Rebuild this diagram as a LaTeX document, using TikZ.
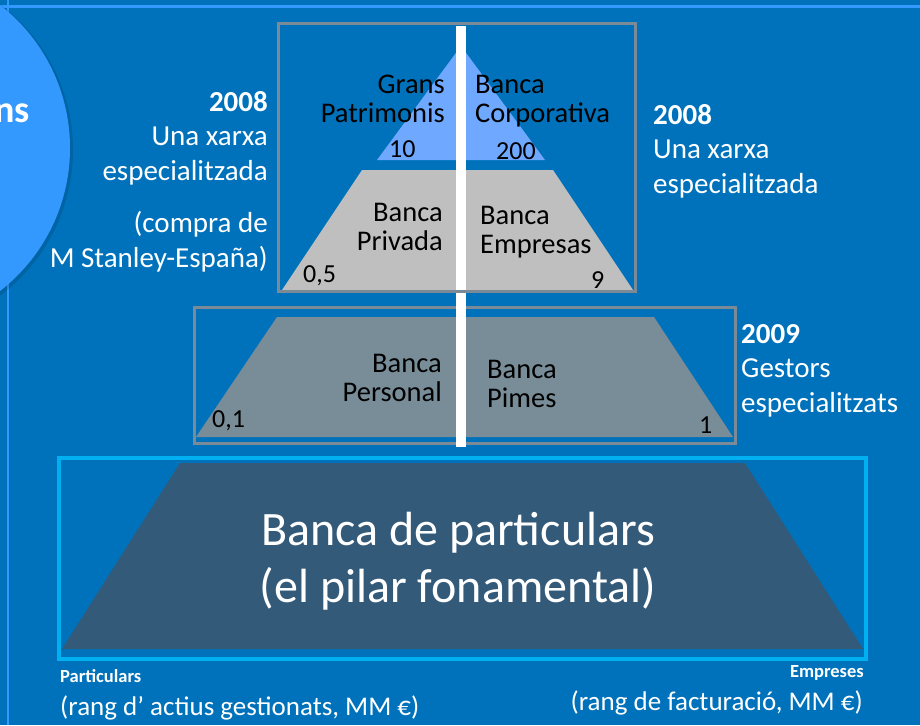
\documentclass[tikz,border=0pt]{standalone}
\usepackage{fontspec}
\setmainfont{Carlito}
\usetikzlibrary{positioning}
\definecolor{bg}{RGB}{0,114,187}
\definecolor{lightblue}{RGB}{51,153,255}
\definecolor{topblue}{RGB}{111,168,255}
\definecolor{framegray}{RGB}{122,138,150}
\definecolor{midgray}{RGB}{191,191,191}
\definecolor{slate}{RGB}{120,141,152}
\definecolor{darkslate}{RGB}{52,90,122}
\definecolor{cyanline}{RGB}{0,176,240}

\begin{document}
\begin{tikzpicture}[x=1pt,y=-1pt,
  lbl/.style={inner sep=0pt, font=\fontsize{28.5}{29}\selectfont},
  num/.style={inner sep=0pt, anchor=base west, font=\fontsize{26}{26}\selectfont},
  side/.style={inner sep=0pt, white, font=\fontsize{29}{34.5}\selectfont},
  frame/.style={draw=framegray, line width=3pt}]
\useasboundingbox (0,0) rectangle (920,725);
\fill[bg] (0,0) rectangle (920,725);
\draw[lightblue, line width=3pt] (0,6.5) -- (920,6.5);
\draw[lightblue, line width=2pt] (8,0) -- (8,725);
% round badge at the left
\fill[black, opacity=.12] (-109,150) circle (182);
\fill[lightblue] (-111,148) circle (181);
\node[anchor=base east, inner sep=0pt, white, font=\bfseries\fontsize{38}{38}\selectfont] (ns) at (30,122) {ns};

% pyramid
\fill[topblue] (461,46) -- (545,160) -- (377,160) -- cycle;
\fill[midgray] (362,170) -- (553,170) -- (633,290) -- (282,290) -- cycle;
\fill[slate] (277,317) -- (654,317) -- (733,437) -- (196,437) -- cycle;
\fill[darkslate] (180,463) -- (745,463) -- (863,649) -- (62,649) -- cycle;
\draw[frame] (194,307) rectangle (735,443);
\fill[white] (456,26) rectangle (466,447);
\draw[frame] (278,24) rectangle (635,291);
\draw[cyanline, line width=4pt] (59,458) rectangle (866,659);

\node[lbl, anchor=base east, align=right] (gp) at (445,122) {Grans\\Patrimonis};
\node[lbl, anchor=base west, align=left] (bc) at (475,122) {Banca\\Corporativa};
\node[num] (n10) at (389,157) {10};
\node[num] (n200) at (496,159) {200};
\node[lbl, anchor=base east, align=right] (bpr) at (443,250) {Banca\\Privada};
\node[lbl, anchor=base west, align=left] (be) at (480,253) {Banca\\Empresas};
\node[num] (n05) at (303,282) {0,5};
\node[num] (n9) at (591,288) {9};
\node[lbl, anchor=base east, align=right] (bpe) at (442,401) {Banca\\Personal};
\node[lbl, anchor=base west, align=left] (bpi) at (487,407) {Banca\\Pimes};
\node[num] (n01) at (212,427) {0,1};
\node[num] (n1) at (699,433) {1};
\node[white, anchor=base, align=center, inner sep=0pt, font=\fontsize{48}{57}\selectfont] (part) at (458,602) {Banca de particulars\\(el pilar fonamental)};

% notes beside the pyramid
\node[side, anchor=base east, align=right] (l2008) at (268,180) {\textbf{2008}\\Una xarxa\\especialitzada};
\node[side, anchor=base east, align=right] (compra) at (268,267) {(compra de\\M Stanley-España)};
\node[side, anchor=base west, align=left] (r2008) at (653,193) {\textbf{2008}\\Una xarxa\\especialitzada};
\node[side, anchor=base west, align=left] (g2009) at (741,412) {\textbf{2009}\\Gestors\\especialitzats};

% axis notes
\node[white, anchor=base west, inner sep=0pt, font=\bfseries\fontsize{18.5}{18.5}\selectfont] (pt) at (60,682) {Particulars};
\node[white, anchor=base west, inner sep=0pt, font=\fontsize{27}{27}\selectfont] (pr) at (60,715) {(rang d’ actius gestionats, MM €)};
\node[white, anchor=base east, inner sep=0pt, font=\bfseries\fontsize{18.5}{18.5}\selectfont] (em) at (864,677) {Empreses};
\node[white, anchor=base east, inner sep=0pt, font=\fontsize{27}{27}\selectfont] (er) at (863,710) {(rang de facturació, MM €)};
\end{tikzpicture}
\end{document}
